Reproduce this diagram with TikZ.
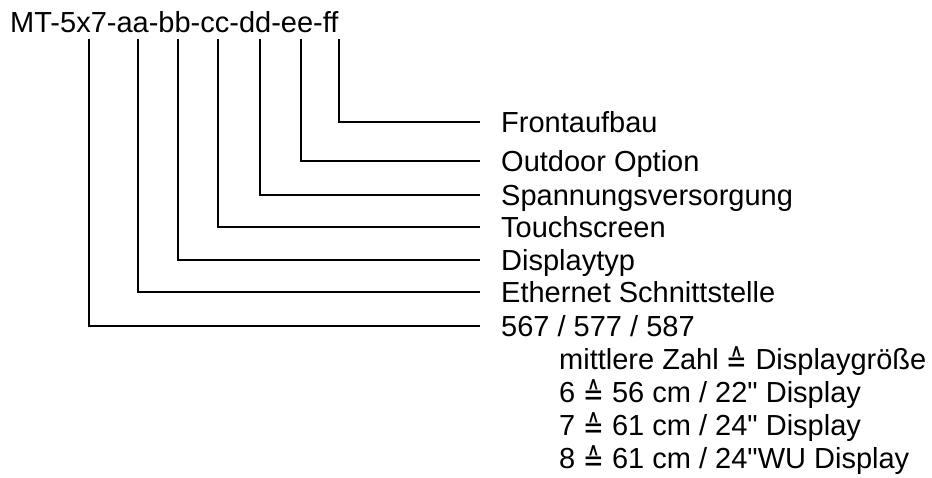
\documentclass[tikz,border=0pt]{standalone}
\usepackage{fontspec}
\newfontfamily\arialish{Liberation Sans}
\newfontfamily\dvsym{DejaVu Sans}
\newcommand{\corr}{\raisebox{-3pt}{\scalebox{0.85}[1.1]{\dvsym ≙}}}
\begin{document}
\begin{tikzpicture}[x=1pt,y=-1pt,
  txt/.style={anchor=base west,inner sep=0pt,font=\arialish\fontsize{29}{33}\selectfont},
  conn/.style={line width=1.4pt,line join=miter}]
\useasboundingbox (0,0) rectangle (932,478);
\node[txt] (title) at (10,33) {MT-5x7-aa-bb-cc-dd-ee-ff};
% labels
\node[txt] (lf) at (501,132.4) {Frontaufbau};
\node[txt] (le) at (501,171.4) {Outdoor Option};
\node[txt] (ld) at (501,205.4) {Spannungsversorgung};
\node[txt] (lc) at (501,237.4) {Touchscreen};
\node[txt] (lb) at (501,270.4) {Displaytyp};
\node[txt] (la) at (501,302.4) {Ethernet Schnittstelle};
\node[txt] (lx) at (501,336.4) {567 / 577 / 587};
\node[txt] (n1) at (559,369.4) {mittlere Zahl \corr{} Displaygröße};
\node[txt] (n2) at (559,402.4) {6 \corr{} 56 cm / 22" Display};
\node[txt] (n3) at (559,435.4) {7 \corr{} 61 cm / 24" Display};
\node[txt] (n4) at (559,468.4) {8 \corr{} 61 cm / 24"WU Display};
% tops of the connectors
\coordinate (tx) at (89,39);
\coordinate (ta) at (138,39);
\coordinate (tb) at (178,39);
\coordinate (tc) at (218,39);
\coordinate (td) at (260,39);
\coordinate (te) at (301,39);
\coordinate (tf) at (339,39);
% ends of the connectors
\coordinate (ef) at (480,122);
\coordinate (ee) at (480,161);
\coordinate (ed) at (480,195);
\coordinate (ec) at (480,227);
\coordinate (eb) at (480,260);
\coordinate (ea) at (480,292);
\coordinate (ex) at (480,326);
\draw[conn] (tf) |- (ef);
\draw[conn] (te) |- (ee);
\draw[conn] (td) |- (ed);
\draw[conn] (tc) |- (ec);
\draw[conn] (tb) |- (eb);
\draw[conn] (ta) |- (ea);
\draw[conn] (tx) |- (ex);
\end{tikzpicture}
\end{document}
